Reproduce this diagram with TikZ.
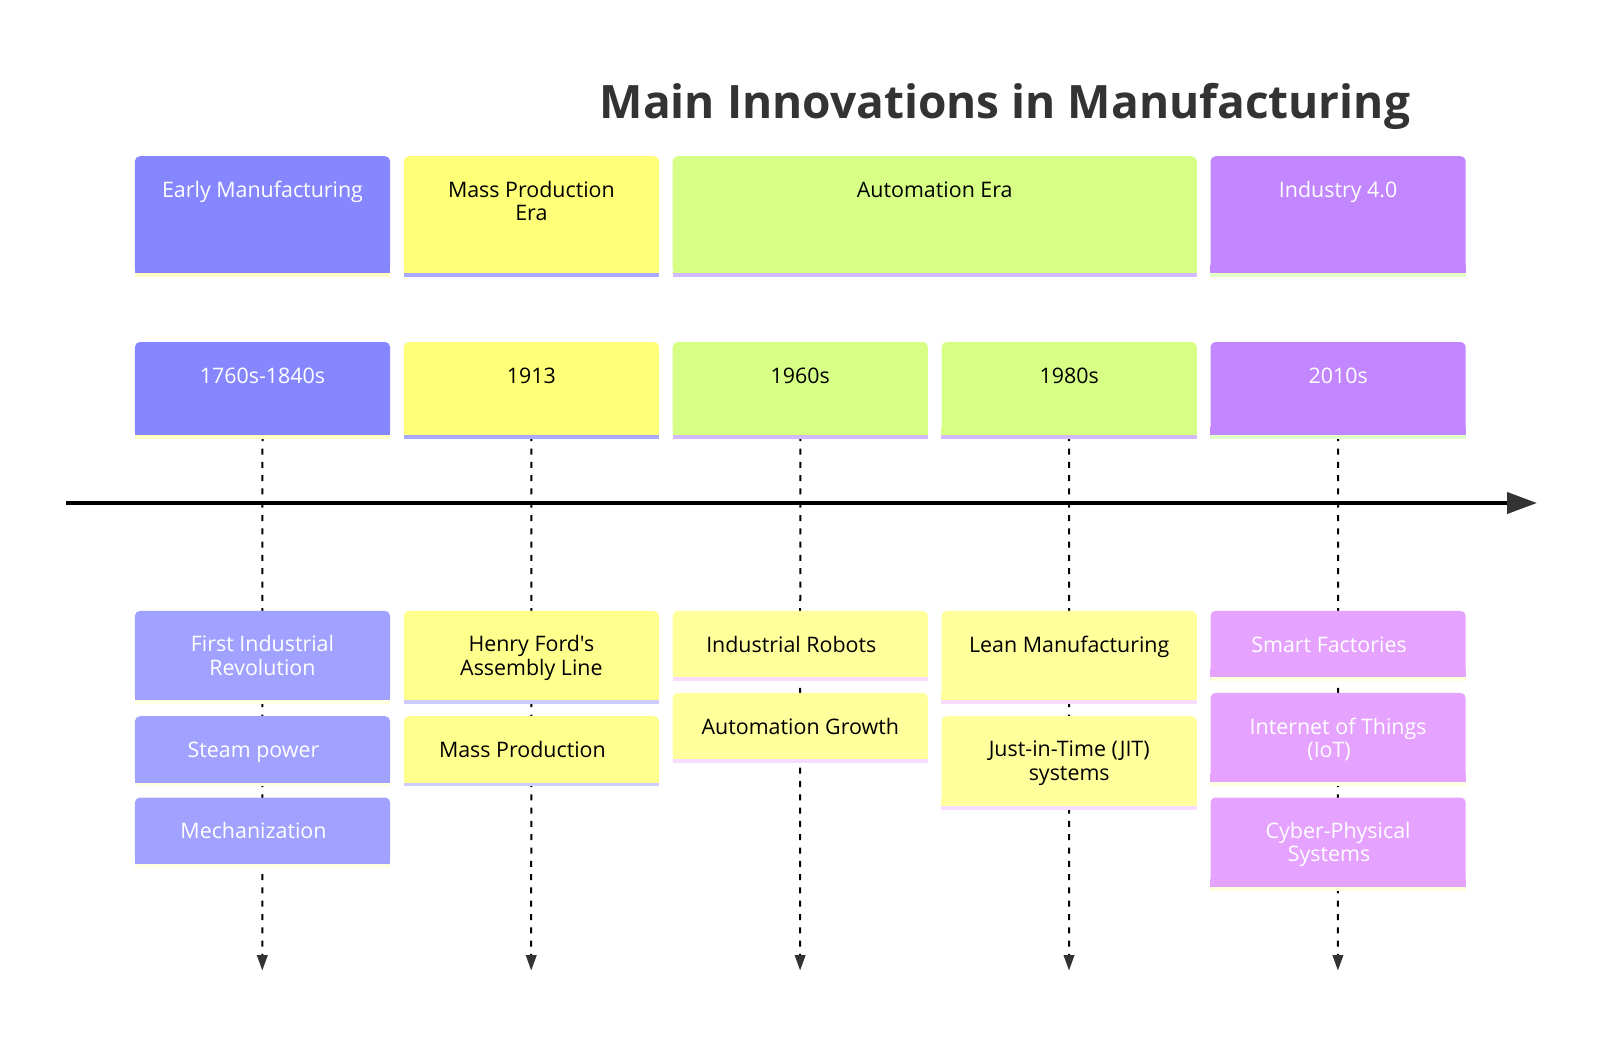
\documentclass[tikz,border=0pt]{standalone}
\usepackage{fontspec}
\setmainfont{Open Sans}[Ligatures=TeXOff]
\usetikzlibrary{arrows.meta}

\definecolor{titlegray}{HTML}{333333}
\definecolor{tipgray}{HTML}{333333}
% section / period colours
\definecolor{secA}{HTML}{8686FF}
\definecolor{secB}{HTML}{FFFF78}
\definecolor{secC}{HTML}{D7FF86}
\definecolor{secD}{HTML}{C286FF}
% underline stripes of section / period boxes
\definecolor{barA}{HTML}{FFFFC6}
\definecolor{barB}{HTML}{AAAAFF}
\definecolor{barC}{HTML}{D2B8FF}
\definecolor{barD}{HTML}{E2FFCA}
% event colours
\definecolor{evA}{HTML}{A1A1FF}
\definecolor{evB}{HTML}{FFFF8E}
\definecolor{evC}{HTML}{FFFF9C}
\definecolor{evD}{HTML}{E6A2FF}
\definecolor{evbarA}{HTML}{FFFFE2}
\definecolor{evbarB}{HTML}{CCCCFF}
\definecolor{evbarC}{HTML}{F8DCFF}
\definecolor{evbarD}{HTML}{FFFFDE}

\pgfdeclarelayer{background}
\pgfsetlayers{background,main}

\tikzset{
  cardshape/.style={rectangle, rounded corners=5pt, inner sep=0pt, anchor=north west, draw=none},
  cardtext/.style={anchor=north, inner sep=0pt, align=center,
    font=\fontsize{21.4}{23.4}\selectfont, execute at begin node=\strut},
  guide/.style={line width=2pt, black, dash pattern=on 6pt off 7.3pt,
    -{Triangle[length=15.5pt, width=10.6pt, color=tipgray]}},
  axis/.style={line width=4pt, black,
    -{Triangle[length=30pt, width=21pt, color=tipgray]}},
}

% trailing space that pushes a centred line a little to the left
\newcommand\tsp{\hbox to 18pt{}}

% box with rounded top corners, square bottom, coloured underline and text
% #1 name, #2 left, #3 top, #4 width, #5 height, #6 fill, #7 stripe, #8 text colour, #9 text
\newcommand\card[9]{%
  \node[cardshape, fill=#6, minimum width=#4pt, minimum height=#5pt] (#1) at (#2,#3) {};
  \fill[#6] ([yshift=8pt]#1.south west) rectangle (#1.south east);
  \fill[#7] (#1.south west) rectangle ([yshift=-3.7pt]#1.south east);
  \node[cardtext, text=#8] (#1-text) at ([yshift=-24.8pt]#1.north) {#9};
}

\begin{document}
\begin{tikzpicture}[x=1pt, y=-1pt]
\useasboundingbox (0,0) rectangle (1600,1036);
\begin{pgfonlayer}{background}
  \fill[white] (0,0) rectangle (1600,1036);
\end{pgfonlayer}

% title
\node[anchor=base, text=titlegray, font=\fontsize{46}{54}\selectfont\bfseries]
  (title) at (1005,118) {Main Innovations in Manufacturing};

% sections
\card{sA}{134.7}{156}{255.2}{116.5}{secA}{barA}{white}{Early Manufacturing}
\card{sB}{403.6}{156}{255.2}{116.5}{secB}{barB}{black}{Mass Production\\Era}
\card{sC}{672.5}{156}{524.1}{116.5}{secC}{barC}{black}{Automation Era}
\card{sD}{1210.3}{156}{255.2}{116.5}{secD}{barD}{white}{Industry 4.0}

% periods
\card{p1}{134.7}{341.8}{255.2}{93}{secA}{barA}{white}{1760s-1840s}
\card{p2}{403.6}{341.8}{255.2}{93}{secB}{barB}{black}{1913}
\card{p3}{672.5}{341.8}{255.2}{93}{secC}{barC}{black}{1960s}
\card{p4}{941.4}{341.8}{255.2}{93}{secC}{barC}{black}{1980s}
\card{p5}{1210.3}{341.8}{255.2}{93}{secD}{barD}{white}{2010s}

% events
\card{e1a}{134.7}{610.7}{255.2}{89.3}{evA}{evbarA}{white}{First Industrial\\Revolution}
\card{e1b}{134.7}{716}{255.2}{66.3}{evA}{evbarA}{white}{Steam power\tsp}
\card{e1c}{134.7}{797.3}{255.2}{66.3}{evA}{evbarA}{white}{Mechanization\tsp}

\card{e2a}{403.6}{610.7}{255.2}{89.3}{evB}{evbarB}{black}{Henry Ford's\\Assembly Line}
\card{e2b}{403.6}{716}{255.2}{66.3}{evB}{evbarB}{black}{Mass Production\tsp}

\card{e3a}{672.5}{610.7}{255.2}{66.3}{evC}{evbarC}{black}{Industrial Robots\tsp}
\card{e3b}{672.5}{692.7}{255.2}{66.3}{evC}{evbarC}{black}{Automation Growth}

\card{e4a}{941.4}{610.7}{255.2}{89.3}{evC}{evbarC}{black}{Lean Manufacturing}
\card{e4b}{941.4}{716}{255.2}{90}{evC}{evbarC}{black}{Just-in-Time (JIT)\\systems}

\card{e5a}{1210.3}{610.7}{255.2}{66.3}{evD}{evbarD}{white}{Smart Factories\tsp}
\card{e5b}{1210.3}{692.7}{255.2}{89.3}{evD}{evbarD}{white}{Internet of Things\\(IoT)\tsp}
\card{e5c}{1210.3}{797.3}{255.2}{89.4}{evD}{evbarD}{white}{Cyber-Physical\\Systems\tsp}

% ends of the dashed guides
\coordinate (g1) at (262.3,970.5);
\coordinate (g2) at (531.2,970.5);
\coordinate (g3) at (800.1,970.5);
\coordinate (g4) at (1069.0,970.5);
\coordinate (g5) at (1337.9,970.5);

\begin{pgfonlayer}{background}
  \foreach \i in {1,...,5}
    \draw[guide] (p\i.south) -- (g\i);
\end{pgfonlayer}

% time axis
\coordinate (axisL) at (66,503);
\coordinate (axisR) at (1537,503);
\draw[axis] (axisL) -- (axisR);
\end{tikzpicture}
\end{document}
